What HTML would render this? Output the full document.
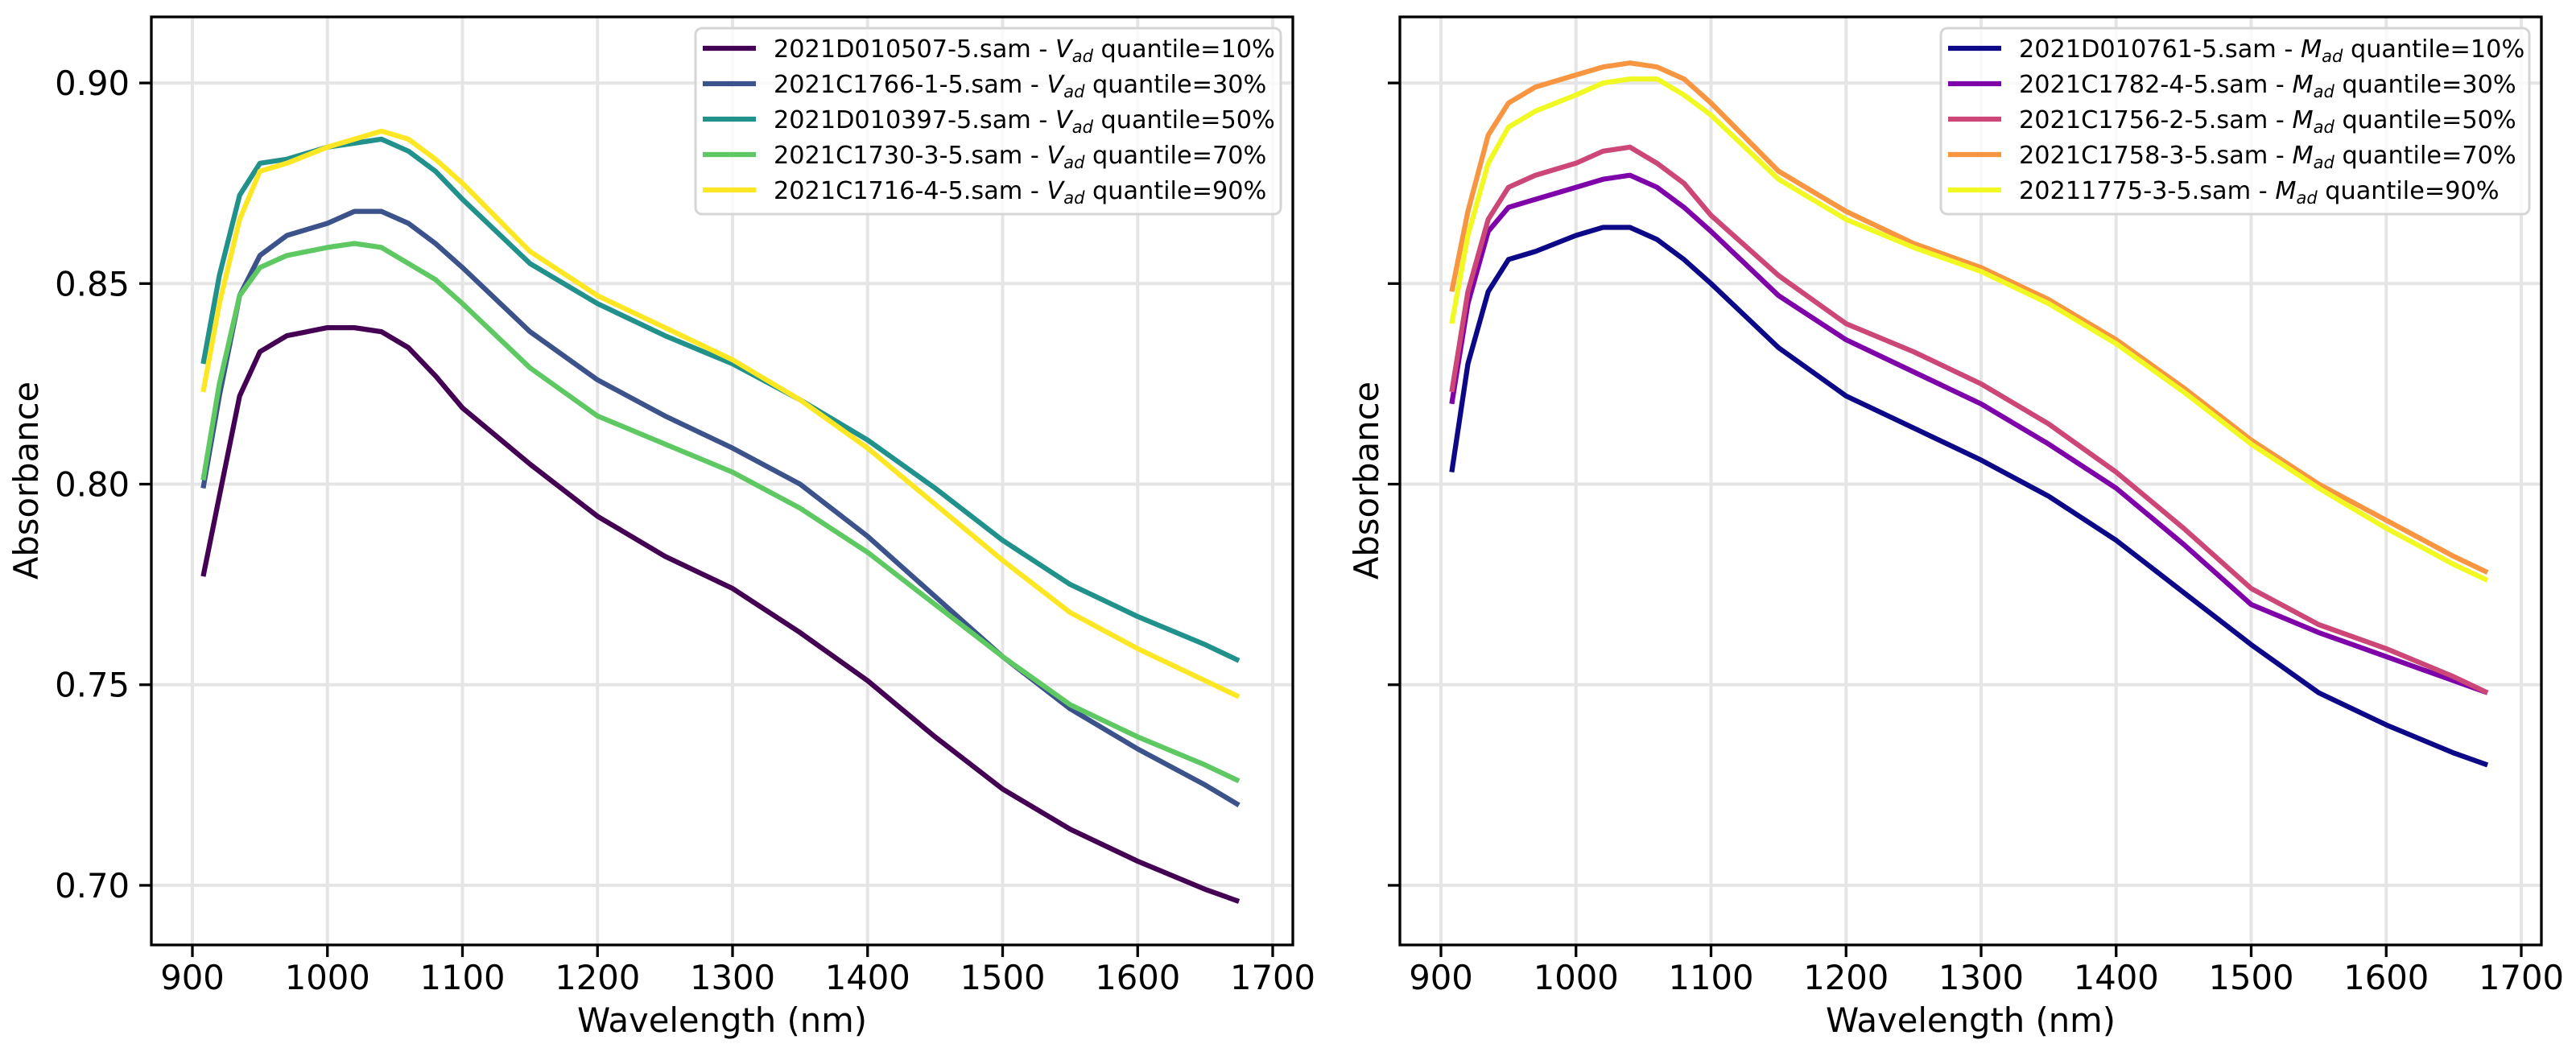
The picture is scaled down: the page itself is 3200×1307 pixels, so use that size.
<!DOCTYPE html>
<html><head><meta charset="utf-8"><style>
body{margin:0;background:#fff}
svg{display:block;font-family:"DejaVu Sans","Liberation Sans",sans-serif}
</style></head><body>
<svg id="chart" width="3200" height="1307" viewBox="0 0 3200 1307" xmlns="http://www.w3.org/2000/svg"></svg>
<script>
const wavelengths = [908,920,935,950,970,1000,1020,1040,1060,1080,1100,1150,1200,1250,1300,1350,1400,1450,1500,1550,1600,1650,1675];
const leftNames = ["2021D010507-5.sam","2021C1766-1-5.sam","2021D010397-5.sam","2021C1730-3-5.sam","2021C1716-4-5.sam"];
const rightNames = ["2021D010761-5.sam","2021C1782-4-5.sam","2021C1756-2-5.sam","2021C1758-3-5.sam","20211775-3-5.sam"];
const quantiles = ["10%","30%","50%","70%","90%"];
const leftColors = ["#440154","#3b528b","#21918c","#5ec962","#fde725"];
const rightColors = ["#0d0887","#7e03a8","#cc4778","#f89540","#f0f921"];
const leftV10 = [0.777,0.797,0.822,0.833,0.837,0.839,0.839,0.838,0.834,0.827,0.819,0.805,0.792,0.782,0.774,0.763,0.751,0.737,0.724,0.714,0.706,0.699,0.696];
const leftV30 = [0.799,0.822,0.847,0.857,0.862,0.865,0.868,0.868,0.865,0.860,0.854,0.838,0.826,0.817,0.809,0.800,0.787,0.772,0.757,0.744,0.734,0.725,0.720];
const leftV50 = [0.830,0.852,0.872,0.880,0.881,0.884,0.885,0.886,0.883,0.878,0.871,0.855,0.845,0.837,0.830,0.821,0.811,0.799,0.786,0.775,0.767,0.760,0.756];
const leftV70 = [0.801,0.825,0.847,0.854,0.857,0.859,0.860,0.859,0.855,0.851,0.845,0.829,0.817,0.810,0.803,0.794,0.783,0.770,0.757,0.745,0.737,0.730,0.726];
const leftV90 = [0.823,0.845,0.866,0.878,0.880,0.884,0.886,0.888,0.886,0.881,0.875,0.858,0.847,0.839,0.831,0.821,0.809,0.795,0.781,0.768,0.759,0.751,0.747];
const rightM10 = [0.803,0.830,0.848,0.856,0.858,0.862,0.864,0.864,0.861,0.856,0.850,0.834,0.822,0.814,0.806,0.797,0.786,0.773,0.760,0.748,0.740,0.733,0.730];
const rightM30 = [0.820,0.845,0.863,0.869,0.871,0.874,0.876,0.877,0.874,0.869,0.863,0.847,0.836,0.828,0.820,0.810,0.799,0.785,0.770,0.763,0.757,0.751,0.748];
const rightM50 = [0.823,0.848,0.866,0.874,0.877,0.880,0.883,0.884,0.880,0.875,0.867,0.852,0.840,0.833,0.825,0.815,0.803,0.789,0.774,0.765,0.759,0.752,0.748];
const rightM70 = [0.848,0.868,0.887,0.895,0.899,0.902,0.904,0.905,0.904,0.901,0.895,0.878,0.868,0.860,0.854,0.846,0.836,0.824,0.811,0.800,0.791,0.782,0.778];
const rightM90 = [0.840,0.862,0.880,0.889,0.893,0.897,0.900,0.901,0.901,0.897,0.892,0.876,0.866,0.859,0.853,0.845,0.835,0.823,0.810,0.799,0.789,0.780,0.776];
const xTicks = [900,1000,1100,1200,1300,1400,1500,1600,1700];
const yTicks = [0.70,0.75,0.80,0.85,0.90];
const yTickLabels = ["0.70","0.75","0.80","0.85","0.90"];

const NS="http://www.w3.org/2000/svg";
const svg=document.getElementById('chart');
function mk(tag,attrs,parent){const e=document.createElementNS(NS,tag);for(const k in attrs)e.setAttribute(k,attrs[k]);(parent||svg).appendChild(e);return e;}
const XMIN=869.6,XMAX=1714.9,YMIN=0.68514,YMAX=0.91647,TOP=21,BOT=1174,W=1418;
function panel(x0,series,names,colors,sym,legLeft,showYLabels,pname){
  const g=mk('g',{});
  
  
  const sx=v=>x0+(v-XMIN)/(XMAX-XMIN)*W;
  const sy=v=>BOT-(v-YMIN)/(YMAX-YMIN)*(BOT-TOP);
  xTicks.forEach(t=>{
    const l=mk('line',{x1:sx(t),x2:sx(t),y1:TOP,y2:BOT,stroke:'#e5e5e5','stroke-width':4},g);
    
    const tk=mk('line',{x1:sx(t),x2:sx(t),y1:BOT,y2:BOT+15,stroke:'#000','stroke-width':3.3},g);
    
    const tx=mk('text',{x:sx(t),y:BOT+55,'font-size':41.7,'text-anchor':'middle'},g);tx.textContent=t;
    
  });
  yTicks.forEach((t,i)=>{
    const l=mk('line',{x1:x0,x2:x0+W,y1:sy(t),y2:sy(t),stroke:'#e5e5e5','stroke-width':4},g);
    
    const tk=mk('line',{x1:x0-15,x2:x0,y1:sy(t),y2:sy(t),stroke:'#000','stroke-width':3.3},g);
    
    if(showYLabels){const tx=mk('text',{x:x0-27,y:sy(t)+15,'font-size':41.7,'text-anchor':'end'},g);tx.textContent=yTickLabels[i];
    }
  });
  series.forEach((s,i)=>{
    const p=mk('path',{d:s.map((v,j)=>(j?'L':'M')+sx(wavelengths[j]).toFixed(1)+','+sy(v).toFixed(1)).join(''),fill:'none',stroke:colors[i],'stroke-width':6.25,'stroke-linejoin':'round'},g);
    
  });
  const fr=mk('rect',{x:x0,y:TOP,width:W,height:BOT-TOP,fill:'none',stroke:'#000','stroke-width':3.3},g);
  
  const xl=mk('text',{x:x0+W/2,y:1282,'font-size':41.7,'text-anchor':'middle'},g);xl.textContent='Wavelength (nm)';
  
  const lg=mk('g',{},g);
  
  const bw=x0+W-15-legLeft;
  const br=mk('rect',{x:legLeft,y:35,width:bw,height:231,rx:8,fill:'rgba(255,255,255,0.8)',stroke:'#d5d5d5','stroke-width':3},lg);
  
  names.forEach((n,i)=>{
    const y=60+44*i;
    const ln=mk('line',{x1:legLeft+9,x2:legLeft+75,y1:y,y2:y,stroke:colors[i],'stroke-width':6.25},lg);
    
    const t=mk('text',{x:legLeft+97,y:y+11,'font-size':30.3},lg);
    
    const a=mk('tspan',{},t);a.textContent=n+' - ';
    const b=mk('tspan',{'font-style':'italic'},t);b.textContent=sym;
    const c=mk('tspan',{'font-style':'italic','font-size':21,dy:6},t);c.textContent='ad';
    const d=mk('tspan',{dy:-6},t);d.textContent=' quantile='+quantiles[i];
  });
}
panel(188,[leftV10,leftV30,leftV50,leftV70,leftV90],leftNames,leftColors,'V',864,true,'left-panel');
panel(1739,[rightM10,rightM30,rightM50,rightM70,rightM90],rightNames,rightColors,'M',2411,false,'right-panel');
const ya=mk('text',{x:0,y:0,'font-size':41.7,'text-anchor':'middle',transform:'translate(47,597) rotate(-90)'});ya.textContent='Absorbance';

const ya2=mk('text',{x:0,y:0,'font-size':41.7,'text-anchor':'middle',transform:'translate(1712,597) rotate(-90)'});ya2.textContent='Absorbance';

</script>
</body></html>
